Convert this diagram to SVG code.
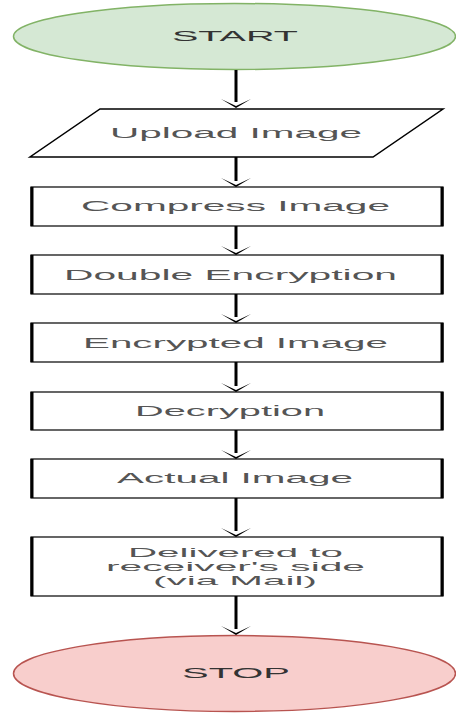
<svg xmlns="http://www.w3.org/2000/svg" width="456" height="717" viewBox="0 0 456 717">
<style>
.t{font-family:"Liberation Sans",Arial,sans-serif;font-size:15.5px;fill:#555}
.t2{font-family:"Liberation Sans",Arial,sans-serif;font-size:13.5px;fill:#555}
.te{font-family:"Liberation Sans",Arial,sans-serif;font-size:15.5px;fill:#333}
.box{fill:#fff;stroke:#000;stroke-width:1.2}
.side{stroke:#000;stroke-width:3}
.conn{stroke:#000;stroke-width:3;fill:none}
.head{fill:#000}
</style>
<defs>
<polygon id="ah" points="-15,-9 0,-2 15,-9 0,0"/>
</defs>
<rect width="456" height="717" fill="#fff"/>
<g id="start">
<ellipse cx="234.5" cy="36.5" rx="221" ry="33" fill="#d5e8d4" stroke="#82b366" stroke-width="1.5"/>
<text class="te" x="172" y="41" textLength="126" lengthAdjust="spacingAndGlyphs">START</text>
</g>
<g id="upload">
<polygon points="100,109 443,109 373,157 30,157" fill="#fff" stroke="#000" stroke-width="1.5"/>
<text class="t" x="110" y="138" textLength="252" lengthAdjust="spacingAndGlyphs">Upload Image</text>
</g>
<g id="compress">
<rect class="box" x="31" y="187" width="412" height="39"/>
<line class="side" x1="32" y1="187" x2="32" y2="226"/><line class="side" x1="442" y1="187" x2="442" y2="226"/>
<text class="t" x="81" y="211" textLength="309" lengthAdjust="spacingAndGlyphs">Compress Image</text>
</g>
<g id="double">
<rect class="box" x="31" y="255" width="412" height="39"/>
<line class="side" x1="32" y1="255" x2="32" y2="294"/><line class="side" x1="442" y1="255" x2="442" y2="294"/>
<text class="t" x="64" y="280" textLength="333" lengthAdjust="spacingAndGlyphs">Double Encryption</text>
</g>
<g id="encrypted">
<rect class="box" x="31" y="323" width="412" height="39"/>
<line class="side" x1="32" y1="323" x2="32" y2="362"/><line class="side" x1="442" y1="323" x2="442" y2="362"/>
<text class="t" x="83" y="348" textLength="305" lengthAdjust="spacingAndGlyphs">Encrypted Image</text>
</g>
<g id="decryption">
<rect class="box" x="31" y="392" width="412" height="38"/>
<line class="side" x1="32" y1="392" x2="32" y2="430"/><line class="side" x1="442" y1="392" x2="442" y2="430"/>
<text class="t" x="135" y="416" textLength="190" lengthAdjust="spacingAndGlyphs">Decryption</text>
</g>
<g id="actual">
<rect class="box" x="31" y="459" width="412" height="39"/>
<line class="side" x1="32" y1="459" x2="32" y2="498"/><line class="side" x1="442" y1="459" x2="442" y2="498"/>
<text class="t" x="117" y="483" textLength="236" lengthAdjust="spacingAndGlyphs">Actual Image</text>
</g>
<g id="delivered">
<rect class="box" x="31" y="537" width="412" height="59"/>
<line class="side" x1="32" y1="537" x2="32" y2="596"/><line class="side" x1="442" y1="537" x2="442" y2="596"/>
<text class="t2" x="128" y="557" textLength="215" lengthAdjust="spacingAndGlyphs">Delivered to</text>
<text class="t2" x="106" y="571" textLength="259" lengthAdjust="spacingAndGlyphs">receiver's side</text>
<text class="t2" x="153" y="585" textLength="164" lengthAdjust="spacingAndGlyphs">(via Mail)</text>
</g>
<g id="stop">
<ellipse cx="234.5" cy="673.5" rx="221" ry="38" fill="#f8cecc" stroke="#b85450" stroke-width="1.5"/>
<text class="te" x="182" y="678" textLength="108" lengthAdjust="spacingAndGlyphs">STOP</text>
</g>
<g id="connectors">
<line class="conn" x1="236" y1="70" x2="236" y2="102"/><use href="#ah" class="head" x="236" y="108"/>
<line class="conn" x1="236" y1="157" x2="236" y2="181"/><use href="#ah" class="head" x="236" y="187"/>
<line class="conn" x1="236" y1="226" x2="236" y2="249"/><use href="#ah" class="head" x="236" y="255"/>
<line class="conn" x1="236" y1="294" x2="236" y2="317"/><use href="#ah" class="head" x="236" y="323"/>
<line class="conn" x1="236" y1="362" x2="236" y2="386"/><use href="#ah" class="head" x="236" y="392"/>
<line class="conn" x1="236" y1="430" x2="236" y2="453"/><use href="#ah" class="head" x="236" y="459"/>
<line class="conn" x1="236" y1="498" x2="236" y2="531"/><use href="#ah" class="head" x="236" y="537"/>
<line class="conn" x1="236" y1="596" x2="236" y2="629"/><use href="#ah" class="head" x="236" y="635"/>
</g>
</svg>
